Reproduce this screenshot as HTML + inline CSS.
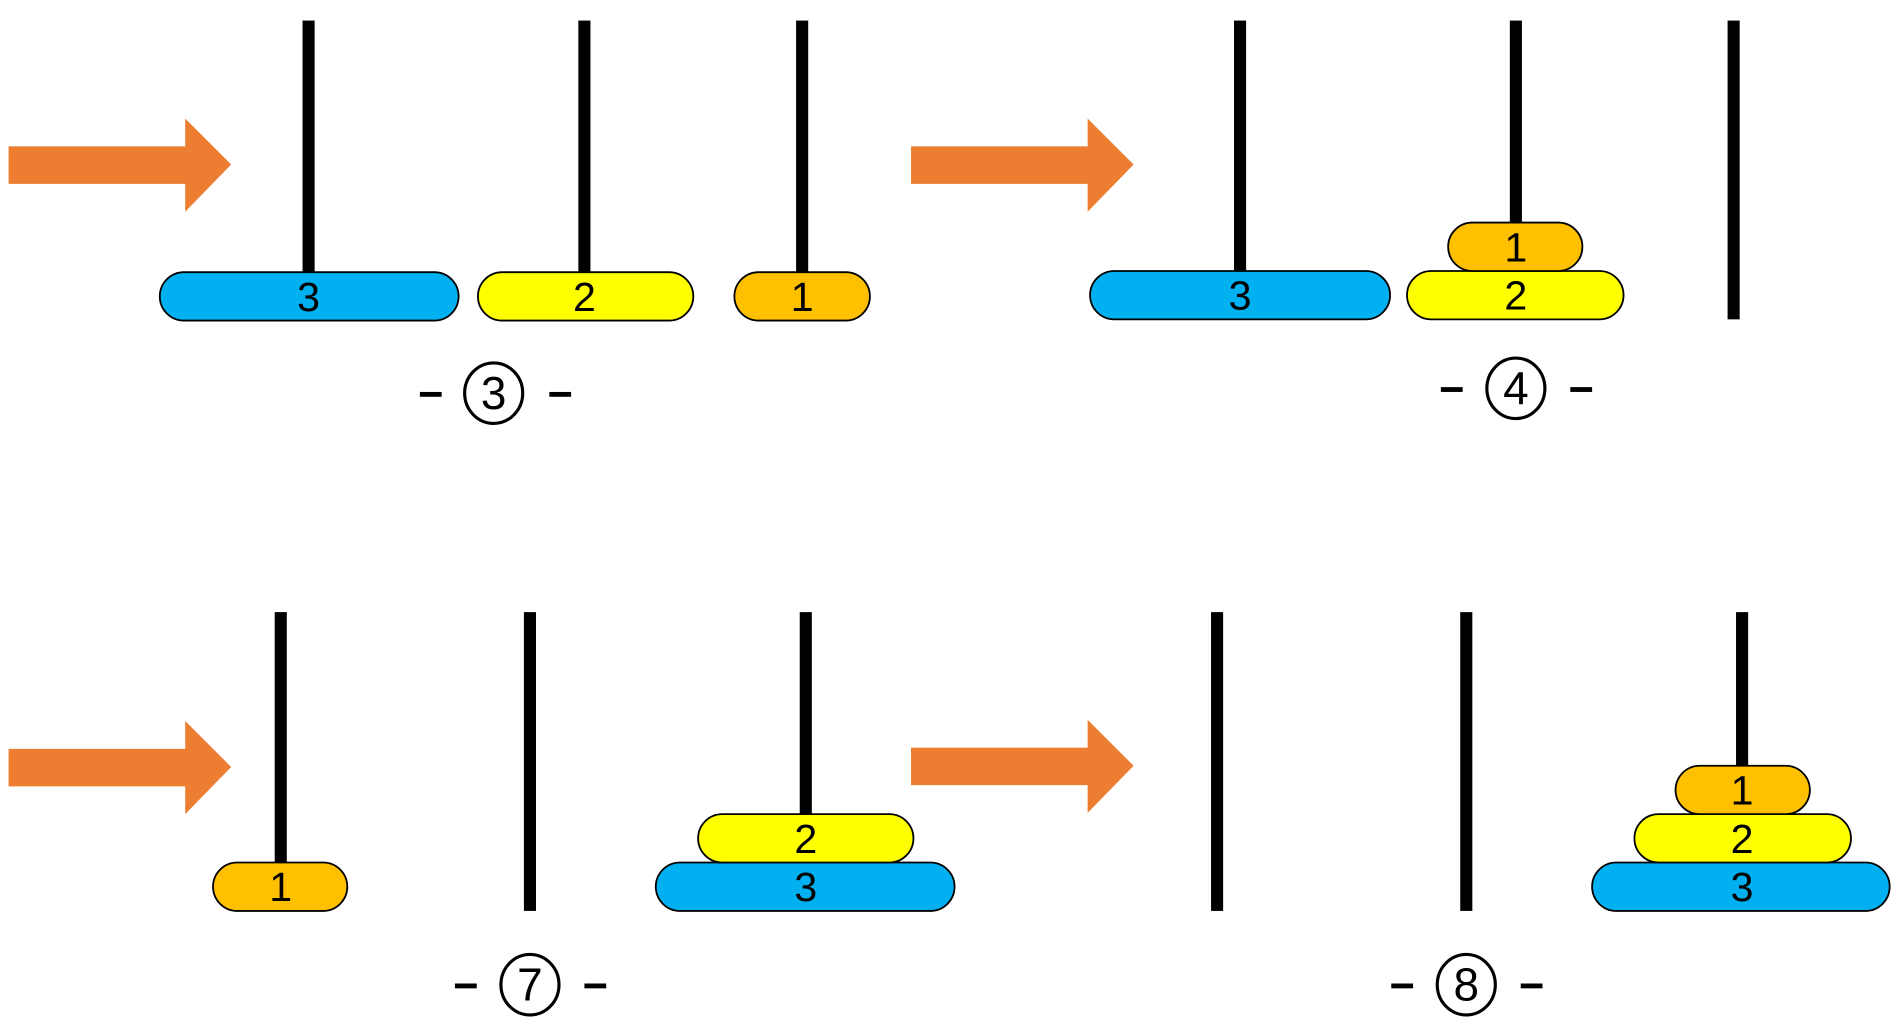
<!DOCTYPE html>
<html><head><meta charset="utf-8"><style>
html,body{margin:0;padding:0;background:#fff;}
svg{display:block;}
text{font-family:"Liberation Sans Narrow","Liberation Sans",sans-serif;fill:#000;}
</style></head><body>
<svg width="1891" height="1021" viewBox="0 0 1563 844" xmlns="http://www.w3.org/2000/svg">
<defs>
<g id="arrow"><polygon points="0,0 146,0 146,-23 184,15 146,54 146,31 0,31" fill="#ED7D31"/></g>
</defs>
<g stroke="none">
<use href="#arrow" x="7" y="121"/>
<use href="#arrow" x="753" y="121"/>
<use href="#arrow" x="7" y="619"/>
<use href="#arrow" x="753" y="618"/>
</g>
<g fill="#000">
<rect x="250" y="17" width="10" height="210"/>
<rect x="478" y="17" width="10" height="210"/>
<rect x="658" y="17" width="10" height="210"/>
<rect x="1020" y="17" width="10" height="208"/>
<rect x="1248" y="17" width="10" height="170"/>
<rect x="1428" y="17" width="10" height="247"/>
<rect x="227" y="506" width="10" height="209"/>
<rect x="433" y="506" width="10" height="247"/>
<rect x="661" y="506" width="10" height="169"/>
<rect x="1001" y="506" width="10" height="247"/>
<rect x="1207" y="506" width="10" height="247"/>
<rect x="1435" y="506" width="10" height="129"/>
</g>
<g stroke="#000" stroke-width="1.5">
<rect x="132" y="225" width="247" height="40" rx="20" fill="#00B0F0"/>
<rect x="395" y="225" width="178" height="40" rx="20" fill="#FFFF00"/>
<rect x="607" y="225" width="112" height="40" rx="20" fill="#FFC000"/>
<rect x="901" y="224" width="248" height="40" rx="20" fill="#00B0F0"/>
<rect x="1163" y="224" width="179" height="40" rx="20" fill="#FFFF00"/>
<rect x="1197" y="184" width="111" height="40" rx="20" fill="#FFC000"/>
<rect x="176" y="713" width="111" height="40" rx="20" fill="#FFC000"/>
<rect x="542" y="713" width="247" height="40" rx="20" fill="#00B0F0"/>
<rect x="577" y="673" width="178" height="40" rx="20" fill="#FFFF00"/>
<rect x="1316" y="713" width="246" height="40" rx="20" fill="#00B0F0"/>
<rect x="1351" y="673" width="179" height="40" rx="20" fill="#FFFF00"/>
<rect x="1385" y="633" width="111" height="40" rx="20" fill="#FFC000"/>
</g>
<g font-size="34" text-anchor="middle">
<text x="255" y="257">3</text>
<text x="483" y="257">2</text>
<text x="663" y="257">1</text>
<text x="1025" y="256">3</text>
<text x="1253" y="256">2</text>
<text x="1253" y="216">1</text>
<text x="232" y="745">1</text>
<text x="666" y="745">3</text>
<text x="666" y="705">2</text>
<text x="1440" y="745">3</text>
<text x="1440" y="705">2</text>
<text x="1440" y="665">1</text>
</g>
<g fill="none" stroke="#000" stroke-width="2.6">
<ellipse cx="408" cy="325" rx="24" ry="25"/>
<ellipse cx="1253" cy="321" rx="24" ry="25"/>
<ellipse cx="438" cy="814" rx="24" ry="25"/>
<ellipse cx="1212" cy="814" rx="24" ry="25"/>
</g>
<g fill="#000">
<rect x="347" y="324" width="18" height="4"/><rect x="454" y="324" width="18" height="4"/>
<rect x="1191" y="320" width="18" height="4"/><rect x="1298" y="320" width="18" height="4"/>
<rect x="376" y="813" width="18" height="4"/><rect x="483" y="813" width="18" height="4"/>
<rect x="1150" y="813" width="18" height="4"/><rect x="1257" y="813" width="18" height="4"/>
</g>
<g font-size="38" text-anchor="middle">
<text x="408" y="338">3</text>
<text x="1253" y="334">4</text>
<text x="438" y="827">7</text>
<text x="1212" y="827">8</text>
</g>
</svg>
</body></html>
